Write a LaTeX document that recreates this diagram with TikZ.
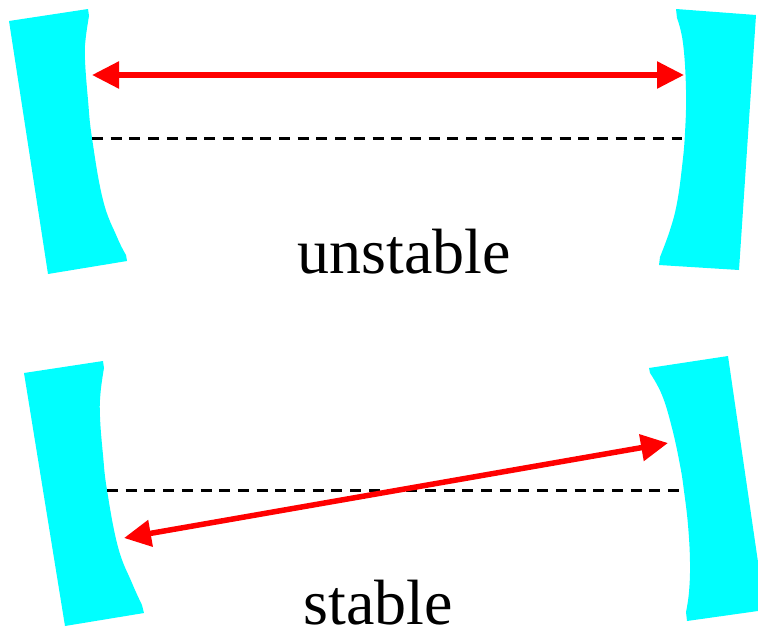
\documentclass[tikz,border=0pt]{standalone}
\usepackage{fontspec}
\setmainfont{Liberation Serif}
\usetikzlibrary{arrows.meta}
\definecolor{mirrorcyan}{HTML}{00FFFF}
\definecolor{beamred}{HTML}{FF0000}
\begin{document}
\begin{tikzpicture}[
    x=1pt,y=-1pt,
    mirror/.style={fill=mirrorcyan,draw=none},
    beam/.style={{Triangle[length=27pt,width=26pt]}-{Triangle[length=27pt,width=26pt]},line width=5.5pt,draw=beamred},
    axis/.style={draw=black,line width=3pt,dash pattern=on 11pt off 7.7pt},
    caption/.style={font=\fontsize{64}{70}\selectfont,anchor=base,inner sep=0pt}
  ]
    \clip (0,0) rectangle (758,630);
    \useasboundingbox (0,0) rectangle (758,630);
    % top pair
    \fill[mirror] (9,21) -- (88,9) -- plot[smooth,tension=0.7] coordinates {(89,16) (85.5,40) (85,60) (88,100) (92,138) (103,200) (117,237) (126,255)}
      -- (127,261) -- (48,274) -- cycle;
    \fill[mirror] (676,9) -- (756,15) -- (739,270) -- (659,265) -- plot[smooth,tension=0.7] coordinates {(660,257) (670,230) (677,203) (682,167) (685,133) (686,90) (683,43) (677,18)}
      -- cycle;
    \coordinate (ul) at (92,75);
    \coordinate (ur) at (684,75);
    \coordinate (al) at (92,138);
    \coordinate (ar) at (682,138);
    \draw[axis] (al)--(ar);
    \draw[beam] (ul)--(ur);
    \node[caption] (unstable) at (404,273) {unstable};
    % bottom pair
    \fill[mirror] (24,373) -- (103,361) -- plot[smooth,tension=0.7] coordinates {(104,368) (100.5,393) (100,417) (103,455) (107,490) (118,547) (132,583) (142,605)}
      -- (144,613) -- (65,626) -- cycle;
    \fill[mirror] (649,368) -- (728,356) -- (765,610) -- (687,621) -- plot[smooth,tension=0.7] coordinates {(686,612) (689,592) (690,562) (688,525) (684,491) (680,465) (672,428) (662,395) (650,373)}
      -- cycle;
    \coordinate (sl) at (124,538);
    \coordinate (sr) at (668,443);
    \coordinate (bl) at (107,490);
    \coordinate (br) at (684,490);
    \draw[axis] (bl)--(br);
    \draw[beam] (sl)--(sr);
    \node[caption] (stable) at (378,624) {stable};
  \end{tikzpicture}
\end{document}
